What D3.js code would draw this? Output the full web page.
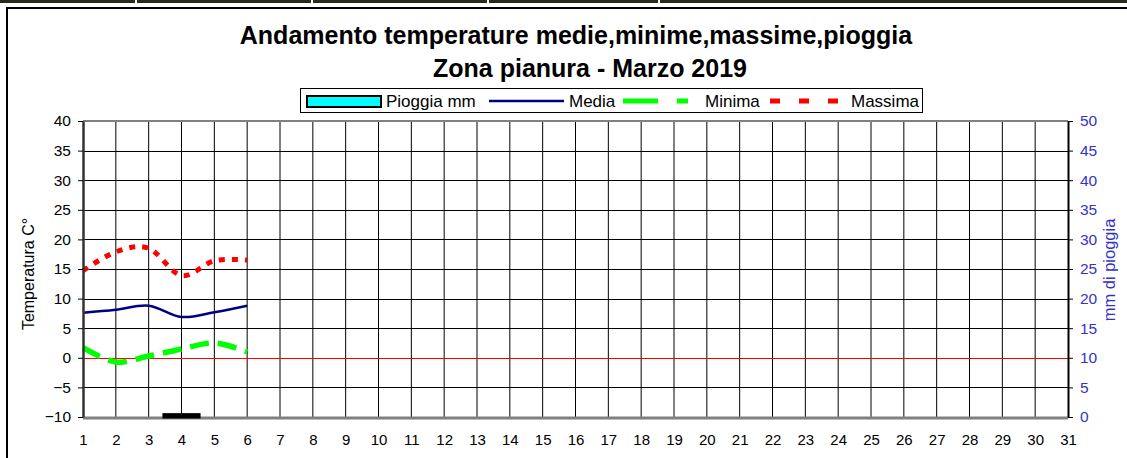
<!DOCTYPE html>
<html><head><meta charset="utf-8">
<script src="https://cdn.jsdelivr.net/npm/d3@7/dist/d3.min.js"></script>
<style>
body{margin:0;background:#fff;}
svg{display:block;font-family:"Liberation Sans",Arial,sans-serif;}
</style>
</head><body>
<svg id="c" width="1127" height="458"></svg>
<script>
// ---- data ----
const titleLines = ["Andamento temperature medie,minime,massime,pioggia", "Zona pianura - Marzo 2019"];
const dayTicks = [1,2,3,4,5,6,7,8,9,10,11,12,13,14,15,16,17,18,19,20,21,22,23,24,25,26,27,28,29,30,31];
const tempTicks = [-10,-5,0,5,10,15,20,25,30,35,40];
const rainTicks = [0,5,10,15,20,25,30,35,40,45,50];
const dataDays = [1,2,3,4,5,6];
const media   = [7.6, 8.1, 8.8, 6.9, 7.7, 8.8];
const minima  = [1.7, -0.7, 0.3, 1.5, 2.5, 1.0];
const massima = [14.7, 17.9, 18.5, 13.9, 16.4, 16.5];
const rainDays = [4];
const rainMm   = [0.4];
const legendNames = ["Pioggia mm", "Media", "Minima", "Massima"];

// ---- layout ----
const svg = d3.select("#c");
const L = 83, R = 1068, T = 121, B = 417;
const x = d3.scaleLinear().domain([1,31]).range([L,R]);
const yL = d3.scaleLinear().domain([-10,40]).range([B,T]);
const yR = d3.scaleLinear().domain([0,50]).range([B,T]);

svg.append("rect").attr("width",1127).attr("height",458).attr("fill","#fff");

// top page strip
const strip = svg.append("g");
strip.append("rect").attr("x",0).attr("y",0).attr("width",1127).attr("height",3).attr("fill","#2a2a22");
[135,311,487,658].forEach(s => strip.append("rect").attr("x",s).attr("y",0).attr("width",2).attr("height",3).attr("fill","#fff"));
// outer chart border
svg.append("rect").attr("x",7).attr("y",8).attr("width",1140).attr("height",470)
  .attr("fill","none").attr("stroke","#000").attr("stroke-width",2);

// titles
svg.append("text").attr("x",576).attr("y",44).attr("text-anchor","middle")
  .attr("font-size",25).attr("font-weight","bold").text(titleLines[0]);
svg.append("text").attr("x",590).attr("y",77).attr("text-anchor","middle")
  .attr("font-size",25).attr("font-weight","bold").text(titleLines[1]);

// grid
const g = svg.append("g");
g.selectAll(".vg").data(dayTicks.slice(1,-1)).join("line")
  .attr("x1",d=>x(d)).attr("x2",d=>x(d)).attr("y1",T).attr("y2",B)
  .attr("stroke","#000").attr("stroke-width",1);
g.selectAll(".hg").data(tempTicks.filter(t=>t>-10 && t<40)).join("line")
  .attr("x1",L).attr("x2",R).attr("y1",d=>Math.round(yL(d))+0.5).attr("y2",d=>Math.round(yL(d))+0.5)
  .attr("stroke",d=>d===0?"#ff0000":"#000").attr("stroke-width",1);

// frame
svg.append("line").attr("x1",L).attr("x2",R).attr("y1",T).attr("y2",T).attr("stroke","#808080").attr("stroke-width",2);
svg.append("line").attr("x1",L).attr("x2",R).attr("y1",B+1).attr("y2",B+1).attr("stroke","#808080").attr("stroke-width",3);

// rain bars
const step = x(2)-x(1);
const bw = step*1.07;
svg.selectAll(".bar").data(rainDays).join("rect")
  .attr("x",(d)=>x(d)-bw/2).attr("width",bw)
  .attr("y",(d,i)=>yR(rainMm[i])).attr("height",(d,i)=>yR(0)-yR(rainMm[i]))
  .attr("fill","#00ffff").attr("stroke","#000").attr("stroke-width",3);

// lines
const line = (vals)=>d3.line().curve(d3.curveCatmullRom.alpha(0))
  .x((d,i)=>x(dataDays[i])).y(d=>yL(d))(vals);
svg.append("path").attr("d",line(media)).attr("fill","none").attr("stroke","#000080").attr("stroke-width",2.5);
svg.append("path").attr("d",line(minima)).attr("fill","none").attr("stroke","#00ff00").attr("stroke-width",5.5)
  .attr("stroke-dasharray","19,9");
svg.append("path").attr("d",line(massima)).attr("fill","none").attr("stroke","#ff0000").attr("stroke-width",5)
  .attr("stroke-dasharray","6,7");

// axes
const axL = svg.append("g").attr("transform",`translate(${L},0)`)
  .call(d3.axisLeft(yL).tickValues(tempTicks).tickSize(5).tickSizeOuter(0).tickPadding(7));
axL.select(".domain").attr("stroke","#333").attr("stroke-width",2.5);
axL.selectAll("line").attr("stroke","#000");
axL.selectAll("text").attr("font-size",15.5).attr("font-family","Liberation Sans, Arial, sans-serif").attr("fill","#000");

const axR = svg.append("g").attr("transform",`translate(${R},0)`)
  .call(d3.axisRight(yR).tickValues(rainTicks).tickSize(5).tickSizeOuter(0).tickPadding(7));
axR.select(".domain").attr("stroke","#000").attr("stroke-width",2);
axR.selectAll("line").attr("stroke","#000");
axR.selectAll("text").attr("font-size",15.5).attr("font-family","Liberation Sans, Arial, sans-serif").attr("fill","#3333cc");

const axB = svg.append("g").attr("transform",`translate(0,${B+1})`)
  .call(d3.axisBottom(x).tickValues(dayTicks).tickSize(0).tickPadding(16).tickFormat(d3.format("d")));
axB.select(".domain").remove();
axB.selectAll("text").attr("font-size",15).attr("font-family","Liberation Sans, Arial, sans-serif").attr("fill","#000");

// axis titles
svg.append("text").attr("transform","translate(34,274) rotate(-90)").attr("text-anchor","middle")
  .attr("font-size",16).text("Temperatura C°");
svg.append("text").attr("transform","translate(1115,270) rotate(-90)").attr("text-anchor","middle")
  .attr("font-size",16.5).attr("fill","#3333cc").text("mm di pioggia");

// legend
const lg = svg.append("g");
lg.append("rect").attr("x",300.5).attr("y",88.5).attr("width",622).attr("height",24)
  .attr("fill","#fff").attr("stroke","#000").attr("stroke-width",1);
lg.append("rect").attr("x",307).attr("y",96).attr("width",74).attr("height",11)
  .attr("fill","#00ffff").attr("stroke","#000").attr("stroke-width",2);
lg.append("text").attr("x",386).attr("y",107).attr("font-size",17).text(legendNames[0]);
lg.append("line").attr("x1",489).attr("x2",564).attr("y1",101).attr("y2",101).attr("stroke","#000080").attr("stroke-width",2.5);
lg.append("text").attr("x",569).attr("y",107).attr("font-size",17).text(legendNames[1]);
lg.append("line").attr("x1",623).attr("x2",688).attr("y1",101).attr("y2",101).attr("stroke","#00ff00").attr("stroke-width",5)
  .attr("stroke-dasharray","35,19");
lg.append("text").attr("x",705).attr("y",107).attr("font-size",17).text(legendNames[2]);
lg.append("line").attr("x1",770).attr("x2",840).attr("y1",101).attr("y2",101).attr("stroke","#ff0000").attr("stroke-width",5)
  .attr("stroke-dasharray","10,19");
lg.append("text").attr("x",851).attr("y",107).attr("font-size",17).text(legendNames[3]);
</script>
</body></html>
